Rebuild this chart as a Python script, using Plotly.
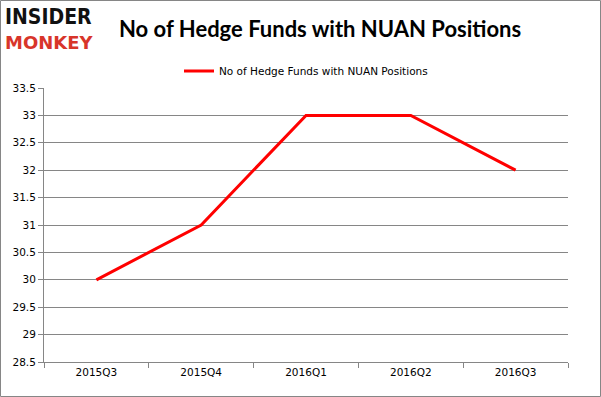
import plotly.graph_objects as go

quarters = ["2015Q3", "2015Q4", "2016Q1", "2016Q2", "2016Q3"]
funds = [30, 31, 33, 33, 32]
series_name = "No of Hedge Funds with NUAN Positions"
title_text = "No of Hedge Funds with NUAN Positions"

L, R, T, B = 44, 33, 88, 35
W, H = 601, 397
pw, ph = W - L - R, H - T - B

fig = go.Figure()
fig.add_trace(go.Scatter(
    x=quarters, y=funds, mode="lines", name=series_name,
    line=dict(color="#ff0000", width=3),
))

fig.update_layout(
    width=W, height=H,
    margin=dict(l=L, r=R, t=T, b=B),
    paper_bgcolor="white", plot_bgcolor="white",
    showlegend=True,
    legend=dict(
        orientation="h", x=0.5, xanchor="center", y=1 + (T - 71) / ph, yanchor="middle",
        yref="paper", xref="paper",
        font=dict(family="Tahoma, DejaVu Sans, sans-serif", size=10.5, color="#000"),
        bgcolor="rgba(0,0,0,0)", itemwidth=30, tracegroupgap=0,
    ),
    xaxis=dict(
        type="category", range=[-0.5, 4.5],
        showgrid=False, showline=True, linecolor="#868686", linewidth=1,
        ticks="outside", tickson="boundaries", ticklen=5, tickcolor="#868686",
        tickfont=dict(family="Tahoma, DejaVu Sans, sans-serif", size=10.5, color="#000"),
        fixedrange=True,
    ),
    yaxis=dict(
        range=[28.5, 33.5], dtick=0.5, tick0=28.5,
        showgrid=True, gridcolor="#868686", gridwidth=1,
        showline=True, linecolor="#868686", linewidth=1,
        ticks="outside", ticklen=5, tickcolor="#868686",
        tickfont=dict(family="Tahoma, DejaVu Sans, sans-serif", size=10.5, color="#000"),
        zeroline=False, fixedrange=True,
    ),
)

# title
fig.add_annotation(
    text="<b>" + title_text + "</b>", x=(320 - L) / pw, y=1 + (T - 29) / ph,
    xref="paper", yref="paper", xanchor="center", yanchor="middle", showarrow=False,
    font=dict(family="Lato, Open Sans, sans-serif", size=22, color="#000"),
)
# logo
fig.add_annotation(
    text="<b>INSIDER</b>", x=(3 - L) / pw, y=1 + (T - 17) / ph,
    xref="paper", yref="paper", xanchor="left", yanchor="middle", showarrow=False,
    font=dict(family="DejaVu Sans Condensed, DejaVu Sans, sans-serif", size=21, color="#111"),
)
fig.add_annotation(
    text="<b>MONKEY</b>", x=(3 - L) / pw, y=1 + (T - 42) / ph,
    xref="paper", yref="paper", xanchor="left", yanchor="middle", showarrow=False,
    font=dict(family="DejaVu Sans, sans-serif", size=18, color="#d8352a"),
)
# outer border
fig.add_shape(
    type="rect", xref="paper", yref="paper",
    x0=(0.5 - L) / pw, x1=(W - 0.5 - L) / pw,
    y0=-(B - 0.5) / ph, y1=1 + (T - 0.5) / ph,
    line=dict(color="#868686", width=1), fillcolor="rgba(0,0,0,0)", layer="above",
)

fig.write_html(
    "out.html",
    config={"displayModeBar": False},
    post_script="document.body.style.margin='0px';document.body.style.overflow='hidden';",
)
